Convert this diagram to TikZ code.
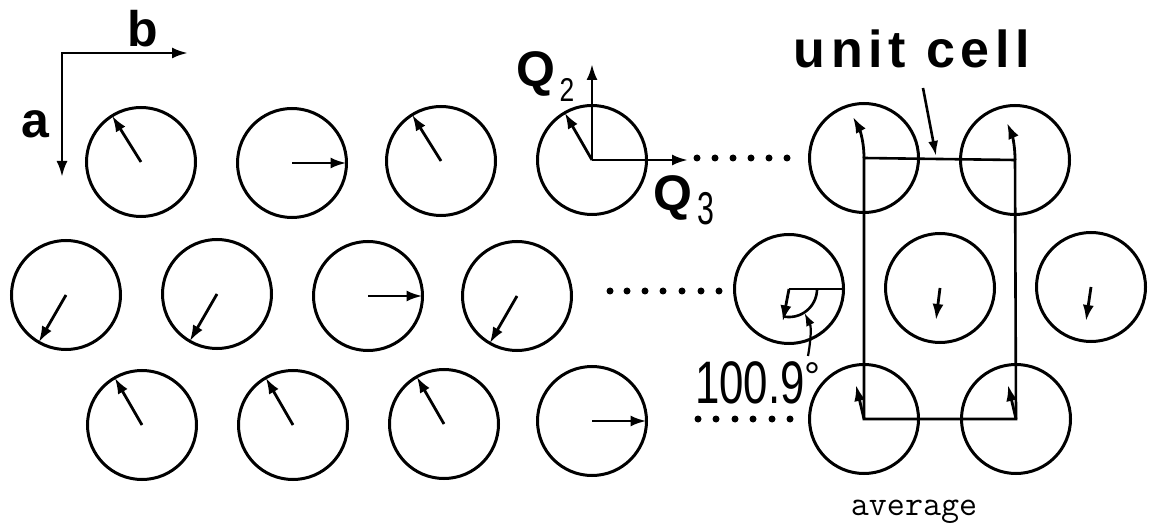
\documentclass[tikz,border=0pt]{standalone}
\usepackage{graphicx}
\usepackage{fontspec}
\newfontfamily\hv{Liberation Sans}
\newfontfamily\hvls[LetterSpace=11]{Liberation Sans}
\usetikzlibrary{arrows.meta,calc}
\begin{document}
\begin{tikzpicture}[x=1pt,y=-1pt,
  ring/.style={circle,draw,line width=3pt,minimum size=109pt,inner sep=0pt,outer sep=0pt},
  vec/.style={line width=2.8pt,-{Latex[length=16pt,width=11pt]}},
  cellline/.style={line width=2.6pt},
  dotmark/.style={circle,fill,inner sep=0pt,minimum size=7pt},
  lab/.style={inner sep=0pt,outer sep=0pt}]
\useasboundingbox (0,0) rectangle (1150,526);

% axes
\coordinate (o) at (62,53);
\coordinate (bt) at (188,53);
\coordinate (at) at (62,177);
\draw[line width=2.8pt,{Latex[length=16pt,width=11pt]}-{Latex[length=16pt,width=11pt]},line join=miter] (at) -- (o) -- (bt);
\node[lab,anchor=base] (lb) at (143,47) {\hv\bfseries\fontsize{50}{50}\selectfont b};
\node[lab,anchor=base] (la) at (35,138) {\hv\bfseries\fontsize{50}{50}\selectfont a};

% row 1
\node[ring] (r11) at (141,162) {};
\node[ring] (r12) at (292,163) {};
\node[ring] (r13) at (441,161) {};
\node[ring] (r14) at (592,160) {};
\node[ring] (r15) at (864,158) {};
\node[ring] (r16) at (1015,160) {};
% row 2
\node[ring] (r21) at (66,295) {};
\node[ring] (r22) at (217,294) {};
\node[ring] (r23) at (368,296) {};
\node[ring] (r24) at (517,296) {};
\node[ring] (r25) at (789,289) {};
\node[ring] (r26) at (940,288) {};
\node[ring] (r27) at (1091,287) {};
% row 3
\node[ring] (r31) at (142,425) {};
\node[ring] (r32) at (293,425) {};
\node[ring] (r33) at (444,424) {};
\node[ring] (r34) at (592,421) {};
\node[ring] (r35) at (864,419) {};
\node[ring] (r36) at (1016,419) {};

% arrows row 1
\draw[vec] (r11.center) -- (r11.122);
\draw[vec] (r12.center) -- (r12.0);
\draw[vec] (r13.center) -- (r13.122);
\draw[vec] (r14.center) -- (r14.120);
\coordinate (q2tip) at (592,64);
\coordinate (q3tip) at (688,160);
\draw[vec] (r14.center) -- (q2tip);
\draw[vec] (r14.center) -- (q3tip);
\node[lab,anchor=base] (q2) at (536,87) {\hv\bfseries\fontsize{50}{50}\selectfont Q};
\node[lab,anchor=base] (q2s) at (567,102) {\hv\fontsize{33}{33}\selectfont\scalebox{0.8}[1]{2}};
\node[lab,anchor=base] (q3) at (673,211) {\hv\bfseries\fontsize{50}{50}\selectfont Q};
\node[lab,anchor=base] (q3s) at (706,225) {\hv\fontsize{46}{46}\selectfont\scalebox{0.66}[1]{3}};

% arrows row 2
\draw[vec] (r21.center) -- (r21.240);
\draw[vec] (r22.center) -- (r22.240);
\draw[vec] (r23.center) -- (r23.0);
\draw[vec] (r24.center) -- (r24.240);
\draw[vec] (r26.center) -- ($(r26.center)+(-4,32)$);
\draw[vec] (r27.center) -- ($(r27.center)+(-5,34)$);

% arrows row 3
\draw[vec] (r31.center) -- (r31.120);
\draw[vec] (r32.center) -- (r32.120);
\draw[vec] (r33.center) -- (r33.120);
\draw[vec] (r34.center) -- (r34.0);
\draw[vec] (r35.center) -- ($(r35.center)+(-8,-34)$);
\draw[vec] (r36.center) -- ($(r36.center)+(-8,-34)$);

% unit cell
\draw[cellline] (r15.center) -- (r16.center) -- (r36.center) -- (r35.center) -- cycle;
\draw[vec] (r15.center) .. controls ($(r15.center)+(0,-20)$) and ($(r15.center)+(-6,-32)$) .. ($(r15.center)+(-11,-41)$);
\draw[vec] (r16.center) .. controls ($(r16.center)+(0,-18)$) and ($(r16.center)+(-4,-28)$) .. ($(r16.center)+(-8,-37)$);
\node[lab,anchor=base] (uc) at (912,68) {\hvls\bfseries\fontsize{52}{52}\selectfont unit cell};
\coordinate (ucs) at (923,88);
\coordinate (uce) at (936,156);
\draw[line width=2.6pt,-{Latex[length=15pt,width=10pt]}] (ucs) -- (uce);

% angle marker
\draw[cellline] (r25.center) -- (r25.0);
\draw[vec] (r25.center) -- ($(r25.center)+(-6.2,32.4)$);
\draw[line width=2.6pt] plot[domain=0:100.9,samples=40] ({789+28*cos(\x)},{289+28*sin(\x)});
\coordinate (arcpt) at (804.5,313);
\coordinate (p0) at (808,356);
\draw[line width=2.2pt,-{Latex[length=13pt,width=9pt]}] (p0) .. controls (810,345) and (812,328) .. (arcpt);
\node[lab,anchor=base west] (ang) at (695,403) {\hv\fontsize{60}{60}\selectfont\scalebox{0.73}[1]{100.9}{\fontsize{40}{40}\selectfont\raisebox{13pt}{°}}};

% dots
\foreach \x [count=\i] in {697,715,733,751,769,787} \node[dotmark] (da\i) at (\x,158) {};
\foreach \x [count=\i] in {610,627,645,663,682,701,719} \node[dotmark] (db\i) at (\x,291) {};
\foreach \x [count=\i] in {698,716,735,753,772,790} \node[dotmark] (dc\i) at (\x,419) {};

% caption
\node[lab,anchor=base] (avg) at (914,515) {\fontsize{35}{35}\selectfont\ttfamily average};
\end{tikzpicture}
\end{document}
